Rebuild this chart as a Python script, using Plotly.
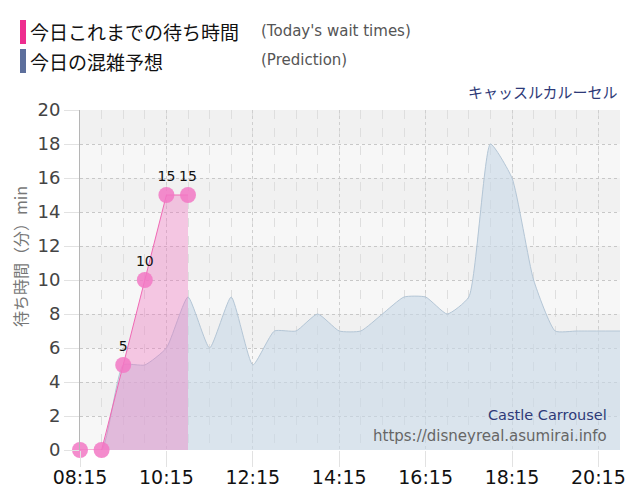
import plotly.graph_objects as go

DAY = "2024-01-01 "

# Prediction (blue area), every 30 minutes
pred_times = ["08:15", "08:45", "09:15", "09:45", "10:15", "10:45", "11:15", "11:45",
              "12:15", "12:45", "13:15", "13:45", "14:15", "14:45", "15:15", "15:45",
              "16:15", "16:45", "17:15", "17:45", "18:15", "18:45", "19:15", "19:45",
              "20:15", "20:45"]
pred_vals = [0, 0, 5, 5, 6, 9, 6, 9, 5, 7, 7, 8, 7, 7, 8, 9, 9, 8, 9, 18, 16, 10, 7, 7, 7, 7]

# Today's actual wait times (pink)
act_times = ["08:15", "08:45", "09:15", "09:45", "10:15", "10:45"]
act_vals = [0, 0, 5, 10, 15, 15]
act_labels = ["" if v == 0 else str(v) for v in act_vals]

y_ticks = [0, 2, 4, 6, 8, 10, 12, 14, 16, 18, 20]
x_tick_labels = ["08:15", "10:15", "12:15", "14:15", "16:15", "18:15", "20:15"]

OFF = 8  # page body margin
W, H = 640 - OFF, 500 - OFF
L, R, T, B = 80 - OFF, 620 - OFF, 110 - OFF, 450 - OFF


def px(x):
    return (x - OFF - L) / (R - L)


def py(y):
    return (B - (y - OFF)) / (B - T)


fig = go.Figure()

fig.add_trace(go.Scatter(
    x=[DAY + t for t in pred_times], y=pred_vals,
    mode="lines", line=dict(color="#b4c6d6", width=1, shape="spline", smoothing=0.5),
    fill="tozeroy", fillcolor="rgba(200,216,230,0.62)",
    hoverinfo="skip", showlegend=False,
))

fig.add_trace(go.Scatter(
    x=[DAY + t for t in act_times], y=act_vals,
    mode="lines+markers+text", text=act_labels, textposition="top center",
    textfont=dict(family="DejaVu Sans", size=14, color="#111111"),
    line=dict(color="#f068b4", width=1),
    marker=dict(size=16, color="rgba(242,120,196,0.85)", line=dict(width=0)),
    fill="tozeroy", fillcolor="rgba(238,110,188,0.36)",
    cliponaxis=False, hoverinfo="skip", showlegend=False,
))

shapes = []
# alternating horizontal bands
for i in range(0, len(y_ticks) - 1):
    lo, hi = y_ticks[i], y_ticks[i + 1]
    if (len(y_ticks) - 2 - i) % 2 == 0:
        shapes.append(dict(type="rect", xref="paper", yref="y", x0=0, x1=1, y0=lo, y1=hi,
                           fillcolor="#f1f1f1", line=dict(width=0), layer="below"))
# legend colour bars
shapes.append(dict(type="rect", xref="paper", yref="paper", x0=px(20), x1=px(26),
                   y0=py(44), y1=py(20), fillcolor="#ee2d8f", line=dict(width=0)))
shapes.append(dict(type="rect", xref="paper", yref="paper", x0=px(20), x1=px(26),
                   y0=py(73), y1=py(49), fillcolor="#5d6f9c", line=dict(width=0)))

ann = []
jp = "Noto Sans CJK JP"
ann.append(dict(text="今日これまでの待ち時間", x=px(28), y=py(32), xref="paper", yref="paper",
                xanchor="left", yanchor="middle", showarrow=False,
                font=dict(family=jp, size=19, color="#111111")))
ann.append(dict(text="今日の混雑予想", x=px(28), y=py(61), xref="paper", yref="paper",
                xanchor="left", yanchor="middle", showarrow=False,
                font=dict(family=jp, size=19, color="#111111")))
ann.append(dict(text="(Today's wait times)", x=px(259), y=py(31), xref="paper", yref="paper",
                xanchor="left", yanchor="middle", showarrow=False,
                font=dict(family="DejaVu Sans", size=15, color="#555555")))
ann.append(dict(text="(Prediction)", x=px(259), y=py(60), xref="paper", yref="paper",
                xanchor="left", yanchor="middle", showarrow=False,
                font=dict(family="DejaVu Sans", size=15, color="#555555")))
ann.append(dict(text="キャッスルカルーセル", x=px(620), y=py(91), xref="paper", yref="paper",
                xanchor="right", yanchor="middle", showarrow=False,
                font=dict(family=jp, size=15, color="#2e3a78")))
ann.append(dict(text="Castle Carrousel", x=px(609), y=py(415), xref="paper", yref="paper",
                xanchor="right", yanchor="middle", showarrow=False,
                font=dict(family="DejaVu Sans", size=14.5, color="#2e3a78")))
ann.append(dict(text="https://disneyreal.asumirai.info", x=px(609), y=py(436), xref="paper",
                yref="paper", xanchor="right", yanchor="middle", showarrow=False,
                font=dict(family="DejaVu Sans", size=15, color="#666666")))
ann.append(dict(text="待ち時間（分）min", x=px(20), y=py(257), xref="paper", yref="paper",
                xanchor="center", yanchor="middle", showarrow=False, textangle=-90,
                font=dict(family=jp, size=16, color="#777777")))

fig.update_layout(
    width=W, height=H,
    margin=dict(l=L, r=W - R, t=T, b=H - B, pad=0, autoexpand=False),
    paper_bgcolor="white", plot_bgcolor="#f7f7f7",
    shapes=shapes, annotations=ann,
    xaxis=dict(
        type="date", automargin=False,
        range=[DAY + pred_times[0], DAY + pred_times[-1]],
        tickmode="array",
        tickvals=[DAY + t for t in x_tick_labels],
        ticktext=x_tick_labels,
        tickfont=dict(family="DejaVu Sans", size=19, color="#111111"),
        ticks="outside", ticklen=16, tickcolor="#e2e2e2", ticklabelstandoff=-6,
        showgrid=True, gridcolor="#cfcfcf", griddash="dot", gridwidth=1,
        minor=dict(dtick=30 * 60 * 1000, tick0=DAY + "08:15", showgrid=True,
                   gridcolor="#dedede", griddash="dash", gridwidth=1),
        showline=False, zeroline=False, fixedrange=True,
    ),
    yaxis=dict(
        range=[0, 20], tickvals=y_ticks, automargin=False,
        tickfont=dict(family="DejaVu Sans", size=18, color="#444444"),
        ticks="outside", ticklen=15, tickcolor="#e2e2e2",
        showgrid=True, gridcolor="#c8c8c8", griddash="dot", gridwidth=1,
        showline=True, linecolor="#b5b5b5", linewidth=1,
        zeroline=False, fixedrange=True,
    ),
)

fig.write_html("out.html")
